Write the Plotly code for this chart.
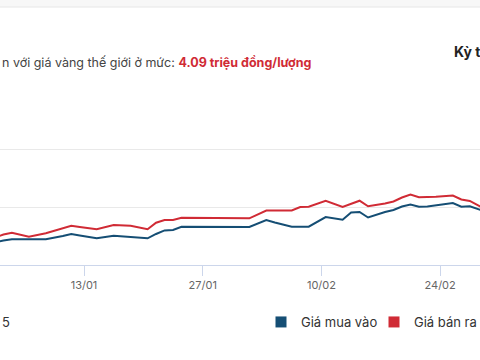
import pandas as pd
import plotly.graph_objects as go

# ---- data (million VND / tael) ----
sell_dates = ["2025-01-02", "2025-01-03", "2025-01-04", "2025-01-06", "2025-01-08", "2025-01-09",
              "2025-01-11", "2025-01-12", "2025-01-14", "2025-01-16", "2025-01-18", "2025-01-20",
              "2025-01-21", "2025-01-22", "2025-01-23", "2025-01-24", "2025-02-01", "2025-02-03",
              "2025-02-06", "2025-02-07", "2025-02-08", "2025-02-10", "2025-02-12", "2025-02-14",
              "2025-02-15", "2025-02-17", "2025-02-18", "2025-02-19", "2025-02-20", "2025-02-21",
              "2025-02-23", "2025-02-25", "2025-02-26", "2025-02-27", "2025-02-28", "2025-03-01"]
sell_values = [84.77, 85.29, 85.60, 84.91, 85.50, 85.98,
               86.81, 86.59, 86.19, 86.94, 86.81, 86.19,
               87.33, 87.80, 87.80, 88.20, 88.10, 89.45,
               89.45, 90.06, 90.11, 91.13, 90.06, 91.15,
               90.18, 90.67, 91.02, 91.71, 92.22, 91.74,
               91.82, 92.05, 91.36, 91.10, 90.32, 89.54]

buy_dates = ["2025-01-02", "2025-01-03", "2025-01-04", "2025-01-08", "2025-01-10", "2025-01-11",
             "2025-01-12", "2025-01-14", "2025-01-16", "2025-01-18", "2025-01-20", "2025-01-21",
             "2025-01-22", "2025-01-23", "2025-01-24", "2025-02-01", "2025-02-03", "2025-02-04",
             "2025-02-06", "2025-02-08", "2025-02-10", "2025-02-12", "2025-02-13", "2025-02-14",
             "2025-02-15", "2025-02-17", "2025-02-18", "2025-02-19", "2025-02-20", "2025-02-21",
             "2025-02-22", "2025-02-25", "2025-02-26", "2025-02-27", "2025-02-28", "2025-03-01"]
buy_values = [83.90, 84.25, 84.46, 84.46, 85.03, 85.38,
              85.12, 84.63, 85.08, 84.91, 84.63, 85.38,
              86.00, 86.07, 86.64, 86.59, 87.80, 87.37,
              86.64, 86.64, 88.32, 87.86, 89.10, 89.19,
              88.24, 89.19, 89.54, 90.14, 90.49, 90.09,
              90.14, 90.75, 90.11, 90.18, 89.62, 89.19]

tick_dates = ["2025-01-13", "2025-01-27", "2025-02-10", "2025-02-24"]
tick_labels = ["13/01", "27/01", "10/02", "24/02"]
y_ticks = [80, 90, 100, 110]

BLUE = "#154e74"
RED = "#d02b35"
FONT = "Inter, Roboto, Arial, sans-serif"

half_day = pd.Timedelta(hours=12)
sx = pd.to_datetime(sell_dates) + half_day
bx = pd.to_datetime(buy_dates) + half_day

fig = go.Figure()
fig.add_trace(go.Scatter(x=bx, y=buy_values, mode="lines", line=dict(color=BLUE, width=2),
                         showlegend=False, hoverinfo="skip"))
fig.add_trace(go.Scatter(x=sx, y=sell_values, mode="lines", line=dict(color=RED, width=2),
                         showlegend=False, hoverinfo="skip"))
# legend entries (square swatches)
fig.add_trace(go.Scatter(x=[None], y=[None], mode="markers", name="Giá mua vào",
                         marker=dict(symbol="square", size=11, color=BLUE)))
fig.add_trace(go.Scatter(x=[None], y=[None], mode="markers", name="Giá bán ra",
                         marker=dict(symbol="square", size=11, color=RED)))

T = 173.0  # plot height in px
def py(px):
    return (265 - px) / T

fig.update_layout(
    width=480, height=360,
    margin=dict(l=0, r=0, t=92, b=95, autoexpand=False),
    paper_bgcolor="white", plot_bgcolor="white",
    font=dict(family=FONT, color="#333333"),
    xaxis=dict(
        type="date",
        range=[pd.Timestamp("2025-01-03 02:15"), pd.Timestamp("2025-02-28 16:50")],
        tickvals=pd.to_datetime(tick_dates), ticktext=tick_labels,
        showgrid=False, showline=True, linecolor="#ccd6eb", linewidth=1,
        ticks="outside", ticklen=10, tickcolor="#ccd6eb",
        tickfont=dict(size=11, color="#666666"), zeroline=False, automargin=False,
    ),
    yaxis=dict(
        range=[80, 110], tickvals=y_ticks, showticklabels=False,
        showgrid=True, gridcolor="#e9e9e9", gridwidth=1, zeroline=False, showline=False,
        automargin=False,
    ),
    legend=dict(orientation="h", x=261 / 480, xanchor="left", y=py(322), yanchor="middle",
                entrywidth=68, entrywidthmode="pixels",
                font=dict(size=13, color="#333333"), itemclick=False, bgcolor="rgba(0,0,0,0)"),
    shapes=[
        dict(type="rect", xref="paper", yref="paper", x0=0, x1=1, y0=py(7), y1=py(0),
             fillcolor="#f7f7f7", line=dict(width=0), layer="below"),
        dict(type="line", xref="paper", yref="paper", x0=0, x1=1, y0=py(7), y1=py(7),
             line=dict(color="#e6e6e6", width=1)),
    ],
    annotations=[
        dict(xref="paper", yref="paper", x=0, y=py(62), xanchor="left", yanchor="middle",
             showarrow=False,
             text="n với giá vàng thế giới ở mức: <b><span style='color:%s'>4.09 triệu đồng/lượng</span></b>" % RED,
             font=dict(size=12.5, color="#444444")),
        dict(xref="paper", yref="paper", x=452 / 480, y=py(52), xanchor="left", yanchor="middle",
             showarrow=False, text="<b>Kỳ t</b>", font=dict(size=14, color="#222222")),
        dict(xref="paper", yref="paper", x=0, y=py(322), xanchor="left", yanchor="middle",
             showarrow=False, text="5", font=dict(size=13, color="#333333")),
    ],
)

fig.write_html("out.html", config={"displayModeBar": False},
               post_script="document.body.style.margin='0';document.body.style.overflow='hidden';")
